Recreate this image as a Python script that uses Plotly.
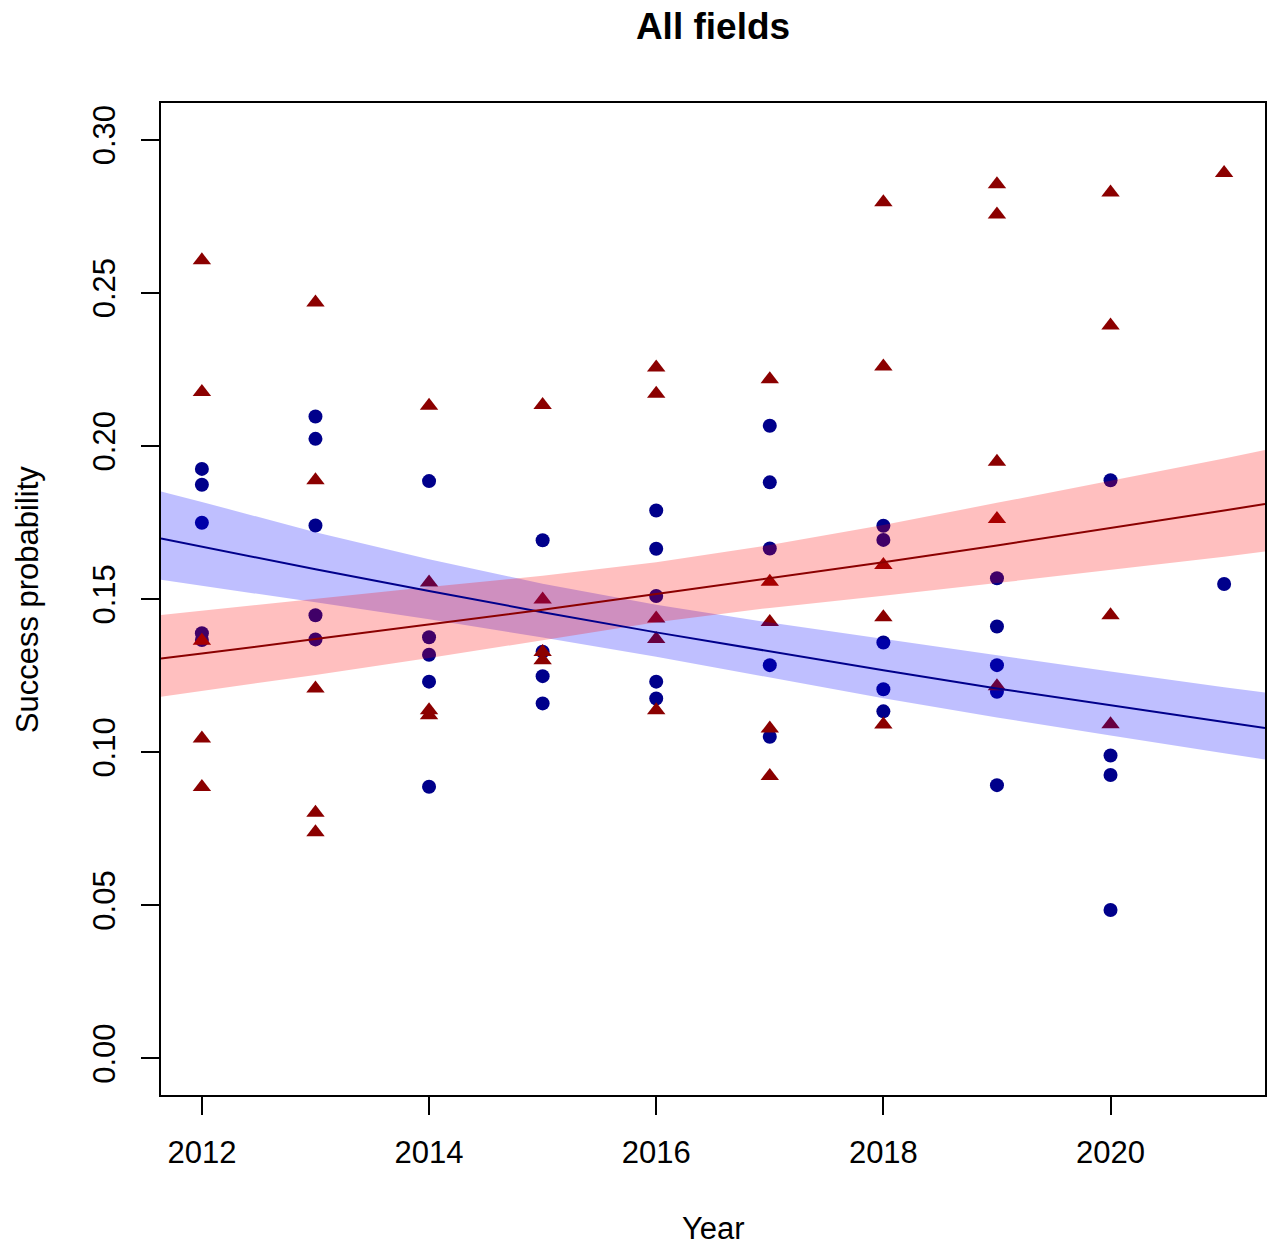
import plotly.graph_objects as go

# ---- data ----
blue_years = [2012]*5 + [2013]*5 + [2014]*5 + [2015]*4 + [2016]*5 + [2017]*5 + [2018]*5 + [2019]*5 + [2020]*4 + [2021]
blue_vals = [0.1925, 0.1873, 0.1749, 0.1388, 0.1366,
             0.2096, 0.2023, 0.1740, 0.1447, 0.1368,
             0.1885, 0.1375, 0.1318, 0.1230, 0.0887,
             0.1692, 0.1328, 0.1248, 0.1159,
             0.1789, 0.1664, 0.1510, 0.1230, 0.1175,
             0.2066, 0.1881, 0.1665, 0.1284, 0.1050,
             0.1739, 0.1693, 0.1358, 0.1205, 0.1133,
             0.1568, 0.1410, 0.1284, 0.1197, 0.0892,
             0.1888, 0.0989, 0.0925, 0.0484,
             0.1549]

red_years = [2012]*5 + [2013]*5 + [2014]*4 + [2015]*4 + [2016]*5 + [2017]*5 + [2018]*5 + [2019]*5 + [2020]*4 + [2021]
red_vals = [0.2606, 0.2176, 0.1364, 0.1044, 0.0886,
            0.2468, 0.1888, 0.1208, 0.0802, 0.0738,
            0.2131, 0.1554, 0.1137, 0.1120,
            0.2134, 0.1498, 0.1327, 0.1300,
            0.2256, 0.2170, 0.1436, 0.1369, 0.1137,
            0.2218, 0.1556, 0.1425, 0.1077, 0.0922,
            0.2796, 0.2259, 0.1611, 0.1440, 0.1090,
            0.2855, 0.2756, 0.1948, 0.1761, 0.1215,
            0.2828, 0.2393, 0.1447, 0.1091,
            0.2891]

fit_years = [2011.64, 2012, 2013, 2014, 2015, 2016, 2017, 2018, 2019, 2020, 2021, 2021.36]
blue_fit = [0.1698, 0.1671, 0.1597, 0.1526, 0.1457, 0.1391, 0.1328, 0.1267, 0.1208, 0.1152, 0.1098, 0.1079]
blue_upper = [0.1851, 0.1817, 0.1718, 0.1630, 0.1550, 0.1481, 0.1423, 0.1369, 0.1316, 0.1263, 0.1212, 0.1195]
blue_lower = [0.1563, 0.1542, 0.1489, 0.1434, 0.1374, 0.1311, 0.1243, 0.1176, 0.1113, 0.1054, 0.0996, 0.0976]
red_fit = [0.1306, 0.1322, 0.1369, 0.1416, 0.1465, 0.1516, 0.1567, 0.1620, 0.1675, 0.1731, 0.1789, 0.1810]
red_upper = [0.1448, 0.1462, 0.1502, 0.1539, 0.1576, 0.1620, 0.1676, 0.1742, 0.1814, 0.1886, 0.1959, 0.1987]
red_lower = [0.1181, 0.1198, 0.1252, 0.1307, 0.1366, 0.1424, 0.1471, 0.1511, 0.1552, 0.1594, 0.1638, 0.1655]

x_ticks = [2012, 2014, 2016, 2018, 2020]
y_ticks = [0.00, 0.05, 0.10, 0.15, 0.20, 0.25, 0.30]
y_tick_labels = ["0.00", "0.05", "0.10", "0.15", "0.20", "0.25", "0.30"]

FONT = "Liberation Sans, Arial, Helvetica, sans-serif"
BASE = 31

W, H = 1272, 1245
L, R, T, B = 161, 5, 103, 150
PW, PH = W - L - R, H - T - B

fig = go.Figure()

fig.add_trace(go.Scatter(x=blue_years, y=blue_vals, mode="markers",
                         marker=dict(symbol="circle", size=14, color="#00008B", line=dict(width=0)),
                         showlegend=False))
fig.add_trace(go.Scatter(x=red_years, y=red_vals, mode="markers",
                         marker=dict(symbol="triangle-up", size=16, color="#8B0000", line=dict(width=0)),
                         showlegend=False))

# confidence bands
fig.add_trace(go.Scatter(x=fit_years + fit_years[::-1], y=blue_upper + blue_lower[::-1],
                         mode="lines", fill="toself", fillcolor="rgba(0,0,255,0.25)",
                         line=dict(width=0), hoverinfo="skip", showlegend=False))
fig.add_trace(go.Scatter(x=fit_years + fit_years[::-1], y=red_upper + red_lower[::-1],
                         mode="lines", fill="toself", fillcolor="rgba(255,0,0,0.25)",
                         line=dict(width=0), hoverinfo="skip", showlegend=False))

# fitted lines
fig.add_trace(go.Scatter(x=fit_years, y=blue_fit, mode="lines",
                         line=dict(color="#00008B", width=2), showlegend=False))
fig.add_trace(go.Scatter(x=fit_years, y=red_fit, mode="lines",
                         line=dict(color="#8B0000", width=2), showlegend=False))

fig.update_layout(
    width=W, height=H,
    margin=dict(l=L, r=R, t=T, b=B),
    paper_bgcolor="white", plot_bgcolor="white",
    font=dict(family=FONT, size=BASE, color="black"),
    title=dict(text="<b>All fields</b>", x=0.5, xref="paper", y=1 - 26/H, yref="container",
               xanchor="center", yanchor="middle", font=dict(size=37, family=FONT, color="black")),
    xaxis=dict(range=[2011.64, 2021.36], tickvals=x_ticks, ticktext=[str(v) for v in x_ticks],
               showgrid=False, zeroline=False, showline=True, linecolor="black", linewidth=2,
               mirror=True, ticks="outside", ticklen=18, tickwidth=1.5, tickcolor="black",
               ticklabelstandoff=11, tickfont=dict(size=BASE)),
    yaxis=dict(range=[-0.012, 0.312], tickvals=y_ticks, ticktext=y_tick_labels,
               showgrid=False, zeroline=False, showline=True, linecolor="black", linewidth=2,
               mirror=True, ticks="outside", ticklen=18, tickwidth=1.5, tickcolor="black",
               tickangle=-90, ticklabelstandoff=14, tickfont=dict(size=BASE)),
    annotations=[
        dict(text="Year", x=0.5, y=-(1228 - 1095) / PH, xref="paper", yref="paper",
             xanchor="center", yanchor="middle", showarrow=False, font=dict(size=BASE)),
        dict(text="Success probability", x=(27 - L) / PW, y=0.5, xref="paper", yref="paper",
             xanchor="center", yanchor="middle", textangle=-90, showarrow=False, font=dict(size=BASE)),
    ],
)

fig.write_html("out.html", config={"displayModeBar": False},
               post_script="document.body.style.margin='0';document.body.style.overflow='hidden';")
